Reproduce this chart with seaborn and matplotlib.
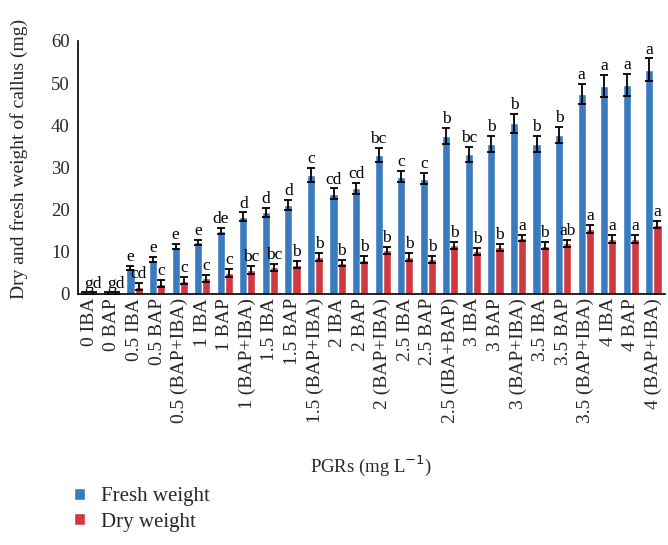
import matplotlib
matplotlib.use("Agg")
import matplotlib.pyplot as plt
import seaborn as sns
import pandas as pd
import numpy as np
from matplotlib.patches import Patch

categories = ["0 IBA", "0 BAP", "0.5 IBA", "0.5 BAP", "0.5 (BAP+IBA)", "1 IBA", "1 BAP",
              "1 (BAP+IBA)", "1.5 IBA", "1.5 BAP", "1.5 (BAP+IBA)", "2 IBA", "2 BAP",
              "2 (BAP+IBA)", "2.5 IBA", "2.5 BAP", "2.5 (IBA+BAP)", "3 IBA", "3 BAP",
              "3 (BAP+IBA)", "3.5 IBA", "3.5 BAP", "3.5 (BAP+IBA)", "4 IBA", "4 BAP",
              "4 (BAP+IBA)"]
fresh = [0.0, 0.0, 6.2, 8.1, 11.2, 12.2, 14.9, 18.3, 19.3, 21.1, 28.2, 23.7, 25.0,
         32.9, 27.8, 27.3, 37.5, 33.1, 35.5, 40.4, 35.5, 37.7, 47.4, 49.4, 49.5, 53.2]
fresh_err = [0.3, 0.3, 0.5, 0.6, 0.6, 0.6, 0.7, 1.0, 1.1, 1.2, 1.6, 1.3, 1.3,
             1.7, 1.4, 1.3, 1.9, 1.8, 1.9, 2.2, 1.9, 1.9, 2.4, 2.6, 2.6, 2.65]
dry = [0.0, 0.0, 1.7, 2.4, 3.1, 3.7, 4.9, 5.7, 6.3, 6.9, 8.7, 7.3, 8.1,
       10.3, 8.7, 8.2, 11.5, 10.1, 11.0, 13.2, 11.4, 12.0, 15.3, 13.0, 13.0, 16.4]
dry_err = [0.3, 0.3, 0.8, 0.9, 0.9, 0.8, 0.9, 0.9, 0.8, 0.8, 0.9, 0.8, 0.8,
           0.8, 0.9, 0.8, 0.8, 0.8, 0.8, 0.8, 0.8, 0.8, 1.0, 0.9, 0.9, 0.8]
fresh_letters = ["", "", "e", "e", "e", "e", "de", "d", "d", "d", "c", "cd", "cd",
                 "bc", "c", "c", "b", "bc", "b", "b", "b", "b", "a", "a", "a", "a"]
dry_letters = ["gd", "gd", "cd", "c", "c", "c", "c", "bc", "bc", "b", "b", "b", "b",
               "b", "b", "b", "b", "b", "b", "a", "b", "ab", "a", "a", "a", "a"]
series = ["Fresh weight", "Dry weight"]
colors = ["#3a7bc0", "#cf3a41"]

df = pd.DataFrame({
    "PGR": categories * 2,
    "value": fresh + dry,
    "err": fresh_err + dry_err,
    "letter": fresh_letters + dry_letters,
    "series": [series[0]] * len(categories) + [series[1]] * len(categories),
})

sns.set_theme(style="white")
plt.rcParams["font.family"] = ["Liberation Serif", "DejaVu Serif"]

fig = plt.figure(figsize=(6.68, 5.45), dpi=100)
ax = fig.add_axes([0.117, 0.461, 0.878, 0.464])

sns.barplot(data=df, x="PGR", y="value", hue="series", palette=colors,
            order=categories, hue_order=series, width=0.72, gap=0.0,
            errorbar=None, ax=ax, legend=False, saturation=1)

# error bars and letters from bar positions
for cont, s in zip(ax.containers, series):
    sub = df[df["series"] == s]
    for bar, (_, row) in zip(cont, sub.iterrows()):
        xc = bar.get_x() + bar.get_width() / 2
        h = bar.get_height()
        ax.errorbar(xc, h, yerr=row["err"], fmt="none", ecolor="black",
                    elinewidth=1.3, capsize=3, capthick=1.3)
        if row["letter"]:
            ax.text(xc, h + row["err"] + 0.2, row["letter"], ha="center",
                    va="bottom", fontsize=12.5, color="black")

ax.set_ylim(0, 60)
ax.set_xlim(-0.5, len(categories) - 0.5)
ax.set_yticks(np.arange(0, 61, 10))
ax.tick_params(axis="y", labelsize=13.5, length=0, pad=6)
ax.tick_params(axis="x", labelsize=14, length=0, pad=3)
plt.setp(ax.get_xticklabels(), rotation=90)
ax.set_xlabel("PGRs (mg L$^{-1}$)", fontsize=13.5, labelpad=22)
ax.set_ylabel("Dry and fresh weight of callus (mg)", fontsize=14)
ax.yaxis.set_label_coords(-0.085, 0.535)
for side in ["top", "right"]:
    ax.spines[side].set_visible(False)
for side in ["left", "bottom"]:
    ax.spines[side].set_color("black")
    ax.spines[side].set_linewidth(1.2)

handles = [Patch(facecolor=c, label=s) for c, s in zip(colors, series)]
fig.legend(handles=handles, loc="upper left", bbox_to_anchor=(0.083, 0.14),
           frameon=False, fontsize=15, handlelength=0.5, handleheight=0.5,
           handletextpad=0.8, labelspacing=0.3)

fig.savefig("out.png", dpi=100)
